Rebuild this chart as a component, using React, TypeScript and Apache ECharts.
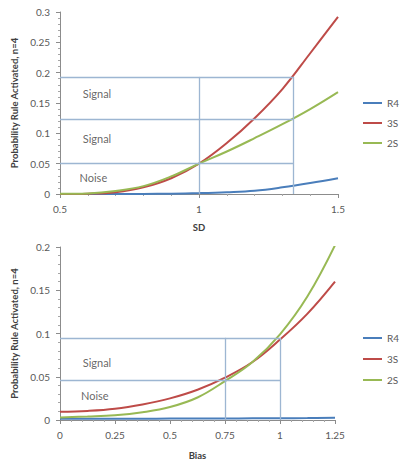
import React, { useEffect, useRef } from "react";
import * as echarts from "echarts";

// ---- Top chart (SD) ----
const sdValues = [0.5, 0.6, 0.7, 0.8, 0.9, 1.0, 1.1, 1.2, 1.3, 1.4, 1.5];
const sdR4 = [0, 0, 0, 0.0002, 0.0006, 0.0015, 0.003, 0.0055, 0.011, 0.018, 0.026];
const sd3S = [0, 0.0005, 0.003, 0.011, 0.026, 0.05, 0.084, 0.125, 0.173, 0.232, 0.292];
const sd2S = [0.0003, 0.001, 0.005, 0.013, 0.029, 0.05, 0.07, 0.092, 0.115, 0.14, 0.168];
const sdHLines = [0.193, 0.124, 0.051];
const sdHRange = [0.5, 1.338];
const sdVLines = [1, 1.338];
const sdVTop = 0.193;
const sdLabels = [
  { text: "Signal", x: 0.633, y: 0.166 },
  { text: "Signal", x: 0.633, y: 0.092 },
  { text: "Noise", x: 0.62, y: 0.028 },
];

// ---- Bottom chart (Bias) ----
const biasValues = [0, 0.125, 0.25, 0.375, 0.5, 0.625, 0.75, 0.875, 1.0, 1.125, 1.25];
const biasR4 = [0.0015, 0.0015, 0.0015, 0.0015, 0.0016, 0.0017, 0.0018, 0.0019, 0.002, 0.0022, 0.0025];
const bias3S = [0.0095, 0.0105, 0.013, 0.018, 0.025, 0.035, 0.049, 0.067, 0.093, 0.123, 0.16];
const bias2S = [0.003, 0.004, 0.0055, 0.009, 0.015, 0.026, 0.045, 0.067, 0.099, 0.143, 0.202];
const biasHLines = [0.095, 0.046];
const biasHRange = [0, 1];
const biasVLines = [0.75, 1];
const biasVTop = 0.095;
const biasLabels = [
  { text: "Signal", x: 0.168, y: 0.066 },
  { text: "Noise", x: 0.158, y: 0.028 },
];

const seriesNames = ["R4", "3S", "2S"];
const colors = ["#4A7EBB", "#BE4B48", "#98B954"];
const guideColor = "#9DB6D2";
const textColor = "#595959";
const FONT = "Lato";

function pairs(xs: number[], ys: number[]) {
  return xs.map((x, i) => [x, ys[i]]);
}

function guideLines(hs: number[], hRange: number[], vs: number[], vTop: number) {
  const out: any[] = [];
  hs.forEach((h) => out.push([{ coord: [hRange[0], h] }, { coord: [hRange[1], h] }]));
  vs.forEach((v) => out.push([{ coord: [v, 0] }, { coord: [v, vTop] }]));
  return out;
}

export default function App() {
  const ref = useRef<HTMLDivElement>(null);
  useEffect(() => {
    if (!ref.current) return;
    const chart = echarts.init(ref.current, undefined, { renderer: "svg" });
    const axisLine = { lineStyle: { color: "#8C8C8C", width: 1 } };
    const axisLabel = { color: textColor, fontSize: 10, fontFamily: FONT, margin: 10 };
    const nameStyle = { color: "#404040", fontSize: 9.5, fontWeight: "bold" as const, fontFamily: FONT };

    const lineSeries = (name: string, idx: number, data: number[][], axisIdx: number) => ({
      name,
      type: "line",
      xAxisIndex: axisIdx,
      yAxisIndex: axisIdx,
      data,
      smooth: 0.4,
      symbol: "none",
      lineStyle: { width: 2, color: colors[idx] },
      itemStyle: { color: colors[idx] },
      z: 3,
    });

    const labelSeries = (labels: { text: string; x: number; y: number }[], axisIdx: number) => ({
      type: "scatter",
      xAxisIndex: axisIdx,
      yAxisIndex: axisIdx,
      symbolSize: 0,
      silent: true,
      data: labels.map((l) => ({
        value: [l.x, l.y],
        label: {
          show: true,
          formatter: l.text,
          position: "inside",
          color: "#404040",
          fontSize: 11,
          fontFamily: FONT,
        },
      })),
    });

    const guideSeries = (lines: any[], axisIdx: number) => ({
      type: "line",
      xAxisIndex: axisIdx,
      yAxisIndex: axisIdx,
      data: [],
      silent: true,
      z: 1,
      markLine: {
        silent: true,
        symbol: "none",
        animation: false,
        label: { show: false },
        lineStyle: { color: guideColor, width: 1.3, type: "solid" },
        emphasis: { disabled: true },
        data: lines,
      },
    });

    const legendBase = {
      orient: "vertical" as const,
      left: 358,
      icon: "rect",
      itemWidth: 19,
      itemHeight: 2,
      itemGap: 8,
      data: seriesNames,
      selectedMode: false,
      textStyle: { color: textColor, fontSize: 10, fontFamily: FONT, lineHeight: 12 },
    };

    chart.setOption({
      animation: false,
      textStyle: { fontFamily: FONT },
      grid: [
        { left: 60, top: 12, width: 278, height: 182 },
        { left: 60, top: 247, width: 275, height: 181 },
      ],
      legend: [
        { ...legendBase, top: 92 },
        { ...legendBase, top: 327, itemGap: 9 },
      ],
      xAxis: [
        {
          type: "value",
          gridIndex: 0,
          min: 0.5,
          max: 1.5,
          interval: 0.5,
          name: "SD",
          nameLocation: "middle",
          nameGap: 28,
          nameTextStyle: nameStyle,
          axisLine: { show: true, ...axisLine },
          axisTick: { show: true, length: 4, lineStyle: { color: "#8C8C8C" } },
          minorTick: { show: true, splitNumber: 5, length: 2, lineStyle: { color: "#A6A6A6" } },
          splitLine: { show: false },
          axisLabel,
        },
        {
          type: "value",
          gridIndex: 1,
          min: 0,
          max: 1.25,
          interval: 0.25,
          name: "Bias",
          nameLocation: "middle",
          nameGap: 30,
          nameTextStyle: nameStyle,
          axisLine: { show: true, ...axisLine },
          axisTick: { show: true, length: 4, lineStyle: { color: "#8C8C8C" } },
          minorTick: { show: true, splitNumber: 5, length: 2, lineStyle: { color: "#A6A6A6" } },
          splitLine: { show: false },
          axisLabel,
        },
      ],
      yAxis: [
        {
          type: "value",
          gridIndex: 0,
          min: 0,
          max: 0.3,
          interval: 0.05,
          name: "Probability Rule Activated, n=4",
          nameLocation: "middle",
          nameGap: 40,
          nameTextStyle: nameStyle,
          axisLine: { show: true, ...axisLine },
          axisTick: { show: true, length: 4, lineStyle: { color: "#8C8C8C" } },
          minorTick: { show: true, splitNumber: 5, length: 2, lineStyle: { color: "#A6A6A6" } },
          splitLine: { show: false },
          axisLabel,
        },
        {
          type: "value",
          gridIndex: 1,
          min: 0,
          max: 0.2,
          interval: 0.05,
          name: "Probability Rule Activated, n=4",
          nameLocation: "middle",
          nameGap: 40,
          nameTextStyle: nameStyle,
          axisLine: { show: true, ...axisLine },
          axisTick: { show: true, length: 4, lineStyle: { color: "#8C8C8C" } },
          minorTick: { show: true, splitNumber: 5, length: 2, lineStyle: { color: "#A6A6A6" } },
          splitLine: { show: false },
          axisLabel,
        },
      ],
      series: [
        guideSeries(guideLines(sdHLines, sdHRange, sdVLines, sdVTop), 0),
        guideSeries(guideLines(biasHLines, biasHRange, biasVLines, biasVTop), 1),
        lineSeries("R4", 0, pairs(sdValues, sdR4), 0),
        lineSeries("3S", 1, pairs(sdValues, sd3S), 0),
        lineSeries("2S", 2, pairs(sdValues, sd2S), 0),
        lineSeries("R4", 0, pairs(biasValues, biasR4), 1),
        lineSeries("3S", 1, pairs(biasValues, bias3S), 1),
        lineSeries("2S", 2, pairs(biasValues, bias2S), 1),
        labelSeries(sdLabels, 0),
        labelSeries(biasLabels, 1),
      ],
    });
    return () => chart.dispose();
  }, []);
  return (
    <div
      ref={ref}
      style={{ position: "fixed", left: 0, top: 0, width: 401, height: 461, background: "#fff" }}
    />
  );
}
